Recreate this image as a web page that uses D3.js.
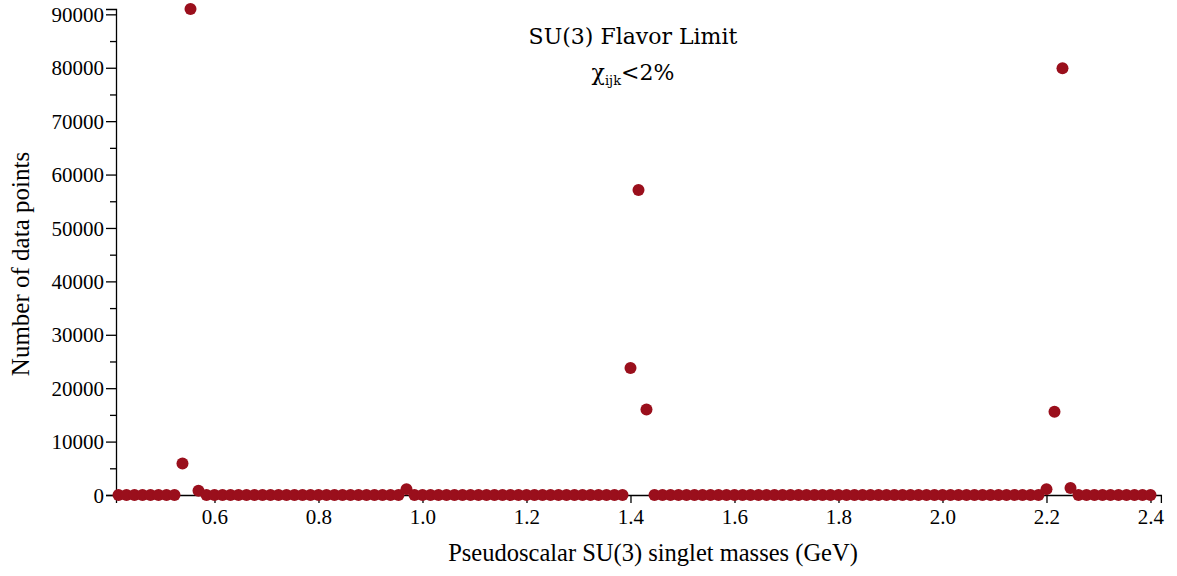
<!DOCTYPE html>
<html>
<head>
<meta charset="utf-8">
<script src="https://cdn.jsdelivr.net/npm/d3@7"></script>
<style>
  body { margin: 0; background: #fff; }
  svg { display: block; }
  .axis path, .axis line { stroke: #000; stroke-width: 1.3; }
  .axis text { font-family: 'Liberation Serif', serif; font-size: 21px; fill: #000; }
</style>
</head>
<body>
<svg id="chart" width="1177" height="576"></svg>
<script>
// bins of pseudoscalar singlet mass, step 2/130 GeV starting above 0.4
const binCount = 130
const binStep = 2 / 130
const binStart = 0.4
// non-zero counts, keyed by bin index
const peakBins = [9, 10, 11, 37, 65, 66, 67, 117, 118, 119, 120]
const peakCounts = [5900, 91000, 800, 1100, 23800, 57100, 16000, 1100, 15600, 79900, 1300]
const xTicks = [0.6, 0.8, 1.0, 1.2, 1.4, 1.6, 1.8, 2.0, 2.2, 2.4]
const yTicks = [0, 10000, 20000, 30000, 40000, 50000, 60000, 70000, 80000, 90000]
const yMinorTicks = [5000, 15000, 25000, 35000, 45000, 55000, 65000, 75000, 85000]

const data = d3.range(1, binCount + 1).map(k => {
  const i = peakBins.indexOf(k)
  return { mass: binStart + k * binStep, count: i === -1 ? 0 : peakCounts[i] }
})

const svg = d3.select('#chart')
const margin = { left: 116, top: 9, bottom: 495 }

const x = d3.scaleLinear().domain([0.4106, 2.42]).range([margin.left, margin.left + 2.0094 * 520])
const y = d3.scaleLinear().domain([0, 91000]).range([margin.bottom, margin.top])

// X-axis along count = 0
svg.append('g')
  .attr('class', 'axis')
  .attr('transform', 'translate(0,' + y(0) + ')')
  .call(d3.axisBottom(x).tickValues(xTicks).tickFormat(d3.format('.1f')).tickSizeOuter(0).tickSize(8).tickPadding(14))

// Y-axis, major + minor ticks
svg.append('g')
  .attr('class', 'axis')
  .attr('transform', 'translate(' + x.range()[0] + ',0)')
  .call(d3.axisLeft(y).tickValues(yTicks).tickFormat(d3.format('d')).tickSizeOuter(0).tickSize(10).tickPadding(2))
svg.append('g')
  .attr('class', 'axis')
  .attr('transform', 'translate(' + x.range()[0] + ',0)')
  .call(d3.axisLeft(y).tickValues(yMinorTicks).tickFormat('').tickSizeOuter(0).tickSize(6))
  .select('.domain').remove()

svg.selectAll('.axis .tick text').attr('dy', '0.34em')

// Points
svg.append('g')
  .selectAll('circle')
  .data(data)
  .enter().append('circle')
  .attr('cx', d => x(d.mass))
  .attr('cy', d => y(d.count))
  .attr('r', 6)
  .attr('fill', '#9a0f1c')

// Axis titles
svg.append('text')
  .attr('x', 653)
  .attr('y', 561)
  .attr('text-anchor', 'middle')
  .attr('font-family', 'Liberation Serif, serif')
  .attr('font-size', 24.5)
  .text('Pseudoscalar SU(3) singlet masses (GeV)')

svg.append('text')
  .attr('transform', 'translate(29,264) rotate(-90)')
  .attr('text-anchor', 'middle')
  .attr('font-family', 'Liberation Serif, serif')
  .attr('font-size', 25)
  .text('Number of data points')

// Plot title
svg.append('text')
  .attr('x', 633)
  .attr('y', 44)
  .attr('text-anchor', 'middle')
  .attr('font-family', 'DejaVu Serif, serif')
  .attr('font-size', 22)
  .text('SU(3) Flavor Limit')

const sub = svg.append('text')
  .attr('x', 633)
  .attr('y', 80)
  .attr('text-anchor', 'middle')
  .attr('font-family', 'DejaVu Serif, serif')
  .attr('font-size', 22)
sub.append('tspan').text('χ')
sub.append('tspan').attr('font-size', 13).attr('dy', 5).text('ijk')
sub.append('tspan').attr('dy', -5).text('<2%')
</script>
</body>
</html>
